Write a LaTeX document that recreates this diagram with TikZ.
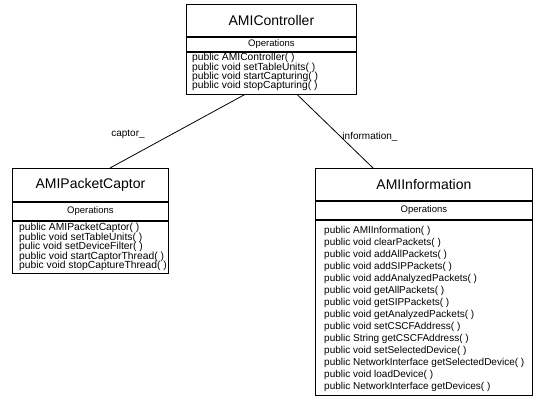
\documentclass[tikz,border=0pt]{standalone}
\usepackage{fontspec}
\setmainfont{Liberation Sans}
\setlength{\lineskiplimit}{-20pt}
\tikzset{
  box/.style={draw=black, line width=0.8pt, inner sep=0pt, anchor=north west},
  titlebox/.style={box, font=\fontsize{14}{16}\selectfont},
  opsbox/.style={box, font=\fontsize{9.5}{11}\selectfont},
  membox/.style={box},
  memtext/.style={anchor=west, inner sep=0pt, align=left, font=\fontsize{10.3}{9.6}\selectfont},
  assoc/.style={draw=black, line width=0.8pt},
  rolelabel/.style={font=\fontsize{10}{12}\selectfont, inner sep=0pt}
}
\begin{document}
\begin{tikzpicture}[x=1pt, y=-1pt]
\useasboundingbox (0,0) rectangle (537,399);

% AMIController
\node[titlebox, minimum width=170, minimum height=32] (ctlT) at (186,4) {AMIController};
\node[opsbox, minimum width=170, minimum height=14] (ctlO) at (ctlT.south west) {Operations};
\node[membox, minimum width=170, minimum height=42] (ctlM) at (ctlO.south west) {};
\node[memtext, font=\fontsize{10.3}{9.3}\selectfont] (ctlX) at ([xshift=6pt,yshift=1pt]ctlM.west) {%
public AMIController( )\\
public void setTableUnits( )\\
public void startCapturing( )\\
public void stopCapturing( )};

% AMIPacketCaptor
\node[titlebox, minimum width=156, minimum height=33] (capT) at (12,168) {AMIPacketCaptor};
\node[opsbox, minimum width=156, minimum height=18] (capO) at (capT.south west) {Operations};
\node[membox, minimum width=156, minimum height=52] (capM) at (capO.south west) {};
\node[memtext] (capX) at ([xshift=7pt]capM.west) {%
public AMIPacketCaptor( )\\
public void setTableUnits( )\\
pulic void setDeviceFilter( )\\
public void startCaptorThread( )\\
pubic void stopCaptureThread( )};

% AMIInformation
\node[titlebox, minimum width=217, minimum height=32] (infT) at (315,168) {AMIInformation};
\node[opsbox, minimum width=217, minimum height=18] (infO) at (infT.south west) {Operations};
\node[membox, minimum width=217, minimum height=175] (infM) at (infO.south west) {};
\node[memtext, font=\fontsize{10}{12}\selectfont] (infX) at ([xshift=9pt,yshift=-1.5pt]infM.west) {%
public AMIInformation( )\\
public void clearPackets( )\\
public void addAllPackets( )\\
public void addSIPPackets( )\\
public void addAnalyzedPackets( )\\
public void getAllPackets( )\\
public void getSIPPackets( )\\
public void getAnalyzedPackets( )\\
public void setCSCFAddress( )\\
public String getCSCFAddress( )\\
public void setSelectedDevice( )\\
public NetworkInterface getSelectedDevice( )\\
public void loadDevice( )\\
public NetworkInterface getDevices( )};

% associations
\draw[assoc] ([xshift=59pt]ctlM.south west) -- ([xshift=98pt]capT.north west);
\draw[assoc] ([xshift=111pt]ctlM.south west) -- ([xshift=58pt]infT.north west);
\node[rolelabel] (capL) at (128,134) {captor\_};
\node[rolelabel] (infL) at (370,137) {information\_};
\end{tikzpicture}
\end{document}
